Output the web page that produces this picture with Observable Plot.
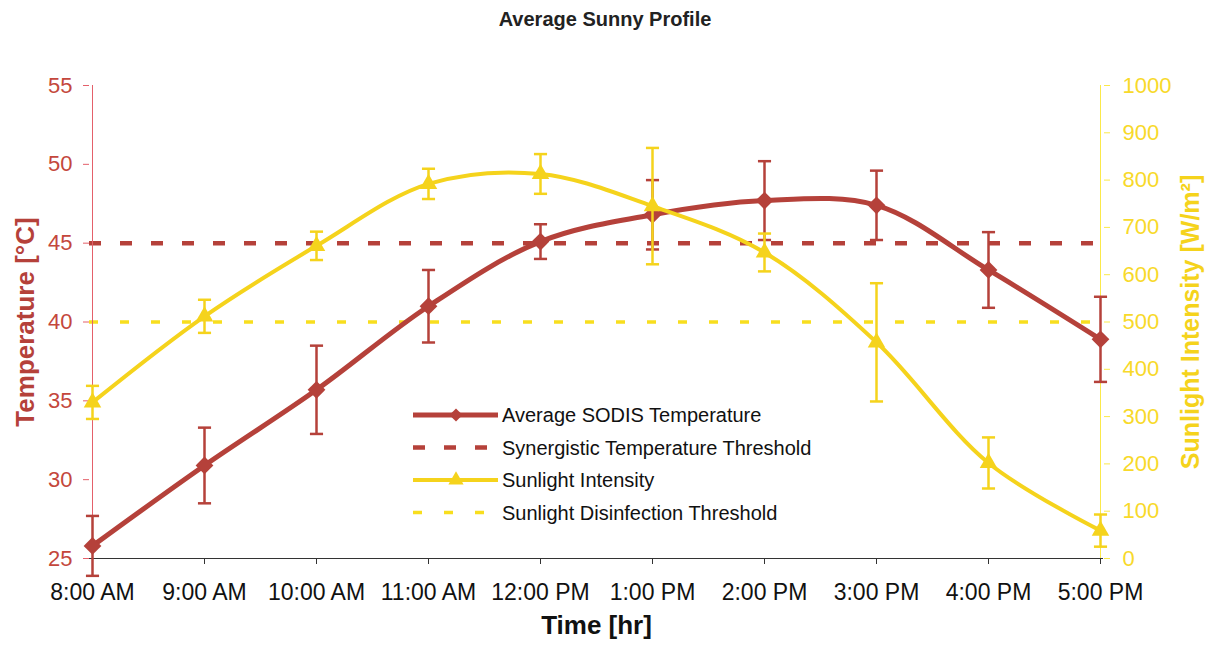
<!DOCTYPE html>
<html><head><meta charset="utf-8">
<script src="https://cdn.jsdelivr.net/npm/d3@7"></script>
<script src="https://cdn.jsdelivr.net/npm/@observablehq/plot@0.6"></script>
<style>
body{margin:0;background:#fff;font-family:Arial,"Liberation Sans",sans-serif;}
#wrap{position:relative;width:1210px;height:645px;overflow:hidden;}
#title{height:40px;line-height:38px;text-align:center;font-weight:bold;font-size:20px;color:#222;}
#legend{position:absolute;left:0;top:0;pointer-events:none;}
</style></head><body>
<div id="wrap"><div id="title">Average Sunny Profile</div><div id="chart"></div></div>
<script>
// ---- data ----
const times = ["8:00 AM","9:00 AM","10:00 AM","11:00 AM","12:00 PM","1:00 PM","2:00 PM","3:00 PM","4:00 PM","5:00 PM"];
const tempMean = [25.8, 30.9, 35.7, 41.0, 45.1, 46.8, 47.7, 47.4, 43.3, 38.9];
const tempErr  = [1.9, 2.4, 2.8, 2.3, 1.1, 2.2, 2.5, 2.2, 2.4, 2.7];
const sunMean  = [330, 512, 661, 792, 813, 745, 647, 457, 202, 59];
const sunErr   = [35, 35, 30, 32, 42, 123, 40, 125, 54, 34];
const tempThreshold = 45;
const sunThreshold = 500;
const tempTicks = [25, 30, 35, 40, 45, 50, 55];
const sunTicks = [0, 100, 200, 300, 400, 500, 600, 700, 800, 900, 1000];
const tempDomain = [25, 55];
const sunDomain = [0, 1000];
const legendLabels = ["Average SODIS Temperature","Synergistic Temperature Threshold","Sunlight Intensity","Sunlight Disinfection Threshold"];
const xTitle = "Time [hr]";
const yLeftTitle = "Temperature [°C]";
const yRightTitle = "Sunlight Intensity [W/m²]";

// ---- helpers ----
const s2t = s => tempDomain[0] + (s - sunDomain[0]) * (tempDomain[1] - tempDomain[0]) / (sunDomain[1] - sunDomain[0]);
const t2s = t => sunDomain[0] + (t - tempDomain[0]) * (sunDomain[1] - sunDomain[0]) / (tempDomain[1] - tempDomain[0]);
const rows = times.map((t, i) => ({time: t, temp: tempMean[i], tErr: tempErr[i], sun: s2t(sunMean[i]), sLo: s2t(sunMean[i] - sunErr[i]), sHi: s2t(sunMean[i] + sunErr[i])}));
const capSymbol = {draw(ctx, size){ const w = Math.sqrt(size); ctx.moveTo(-w, 0); ctx.lineTo(w, 0); }};

const red = "#b5413a", redText = "#c4473c", redAxis = "#e4606a";
const yellow = "#f5d31c", yellowText = "#f8d92a", yellowAxis = "#fbe94a", yellowDash = "#f8de1e";
const font = "Arial, 'Liberation Sans', sans-serif";

const chart = Plot.plot({
  width: 1210, height: 605,
  marginTop: 45, marginBottom: 87, marginLeft: 89, marginRight: 107,
  style: {fontFamily: font, fontSize: "22px", background: "#fff", overflow: "visible"},
  x: {type: "point", domain: times, padding: 0},
  y: {domain: tempDomain},
  marks: [
    Plot.ruleY([tempThreshold], {stroke: red, strokeWidth: 4.5, strokeDasharray: "12,19"}),
    Plot.ruleY([s2t(sunThreshold)], {stroke: yellowDash, strokeWidth: 3.5, strokeDasharray: "9,22"}),
    Plot.ruleY([tempDomain[0]], {stroke: "#333", strokeWidth: 1.2}),
    Plot.ruleX([times[0]], {stroke: redAxis, strokeWidth: 1}),
    Plot.ruleX([times[times.length - 1]], {stroke: yellowAxis, strokeWidth: 1}),
    Plot.axisX({tickSize: 6, tickPadding: 19, fill: "#111", stroke: "#333", label: null, fontSize: 23}),
    Plot.axisY(tempTicks, {anchor: "left", tickSize: 6, tickPadding: 11, fill: redText, stroke: redAxis, label: null, fontSize: 22}),
    Plot.axisY(sunTicks.map(s2t), {anchor: "right", tickSize: 6, tickPadding: 13, fill: yellowText, stroke: yellowAxis, label: null, fontSize: 22, tickFormat: d => String(Math.round(t2s(d)))}),
    // temperature series
    Plot.ruleX(rows, {x: "time", y1: d => d.temp - d.tErr, y2: d => d.temp + d.tErr, stroke: red, strokeWidth: 2.5}),
    Plot.dot(rows, {x: "time", y: d => d.temp + d.tErr, symbol: capSymbol, r: 3.7, stroke: red, strokeWidth: 2.5}),
    Plot.dot(rows, {x: "time", y: d => d.temp - d.tErr, symbol: capSymbol, r: 3.7, stroke: red, strokeWidth: 2.5}),
    Plot.line(rows, {x: "time", y: "temp", curve: "catmull-rom", stroke: red, strokeWidth: 5}),
    Plot.dot(rows, {x: "time", y: "temp", symbol: "diamond2", r: 8, fill: red, stroke: null}),
    // sunlight series
    Plot.ruleX(rows, {x: "time", y1: "sLo", y2: "sHi", stroke: yellow, strokeWidth: 2.5}),
    Plot.dot(rows, {x: "time", y: "sHi", symbol: capSymbol, r: 3.7, stroke: yellow, strokeWidth: 2.5}),
    Plot.dot(rows, {x: "time", y: "sLo", symbol: capSymbol, r: 3.7, stroke: yellow, strokeWidth: 2.5}),
    Plot.line(rows, {x: "time", y: "sun", curve: "catmull-rom", stroke: yellow, strokeWidth: 4}),
    Plot.dot(rows, {x: "time", y: "sun", symbol: "triangle", r: 6.5, fill: yellow, stroke: null}),
    // titles
    Plot.text([yLeftTitle], {text: d => d, frameAnchor: "left", textAnchor: "middle", dx: -64, rotate: -90, fontSize: 26, fontWeight: "bold", fill: red}),
    Plot.text([yRightTitle], {text: d => d, frameAnchor: "right", textAnchor: "middle", dx: 87, rotate: -90, fontSize: 25, fontWeight: "bold", fill: yellow}),
    Plot.text([xTitle], {text: d => d, frameAnchor: "bottom", dy: 75, fontSize: 26, fontWeight: "bold", fill: "#111"})
  ]
});
document.getElementById("chart").appendChild(chart);

// ---- legend overlay ----
const lg = d3.select("#wrap").append("svg").attr("id", "legend").attr("width", 1210).attr("height", 645);
const lx0 = 413, lx1 = 498, lmid = 456, ltx = 502, ly0 = 415, lstep = 32.5;
const styles = [
  {stroke: red, width: 5, dash: null, marker: "diamond"},
  {stroke: red, width: 4.5, dash: "12,19", marker: null},
  {stroke: yellow, width: 4, dash: null, marker: "triangle"},
  {stroke: yellowDash, width: 3.5, dash: "9,22", marker: null}
];
legendLabels.forEach((lab, i) => {
  const y = ly0 + i * lstep, s = styles[i];
  const ln = lg.append("line").attr("x1", lx0).attr("x2", lx1).attr("y1", y).attr("y2", y)
    .attr("stroke", s.stroke).attr("stroke-width", s.width);
  if (s.dash) ln.attr("stroke-dasharray", s.dash);
  if (s.marker === "diamond") lg.append("path").attr("d", d3.symbol(d3.symbolDiamond2, 110)()).attr("transform", `translate(${lmid},${y})`).attr("fill", red);
  if (s.marker === "triangle") lg.append("path").attr("d", d3.symbol(d3.symbolTriangle, 100)()).attr("transform", `translate(${lmid},${y})`).attr("fill", yellow);
  lg.append("text").attr("x", ltx).attr("y", y).attr("dy", "0.35em").attr("font-family", font).attr("font-size", 20).attr("fill", "#111").text(lab);
});
</script>
</body></html>
